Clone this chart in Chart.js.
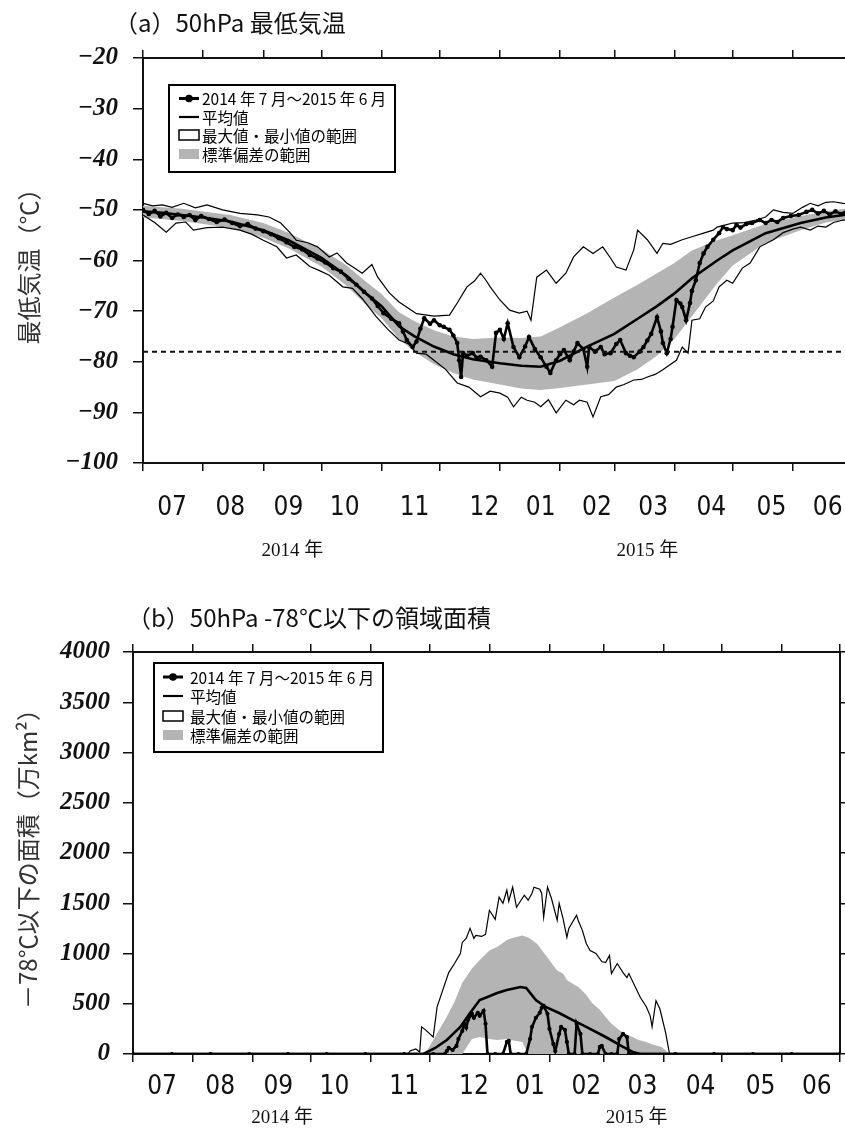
<!DOCTYPE html>
<html lang="ja">
<head>
<meta charset="utf-8">
<title>50hPa 最低気温 / -78℃以下の領域面積</title>
<script src="https://cdn.jsdelivr.net/npm/chart.js@4.4.1/dist/chart.umd.min.js"></script>
<style>
  html, body { margin: 0; padding: 0; background: #fff; }
  #page { position: relative; width: 845px; height: 1135px; overflow: hidden; }
  .ttl { position: absolute; font: 24px/24px "Noto Sans CJK JP", sans-serif; color: #111; white-space: pre; z-index: 2; }
  .box { position: absolute; left: 0; }
  canvas { display: block; }
</style>
</head>
<body>
<div id="page">
  <div class="box" style="top:0; width:860px; height:600px"><canvas id="chartTemp" width="860" height="600"></canvas></div>
  <div class="box" style="top:600px; width:845px; height:535px"><canvas id="chartArea" width="845" height="535"></canvas></div>
  <div class="ttl" style="left:114px; top:10px">（a）50hPa 最低気温</div>
  <div class="ttl" style="left:127px; top:605px">（b）50hPa -78℃以下の領域面積</div>
</div>
<script>
// x軸は 2014/7/1 からの経過日数
var monthStartDays = [0, 31, 62, 92, 123, 153, 184, 215, 243, 274, 304, 335, 365];
var monthLabels = ['07', '08', '09', '10', '11', '12', '01', '02', '03', '04', '05', '06'];
var monthLabelDays = [15, 45, 75, 104, 140, 176, 205, 234, 263, 293, 324, 353];
var yearLabels = ['2014 年', '2015 年'];
var yearLabelDays = [77, 260];
var legendLabels = ['2014 年 7 月～2015 年 6 月', '平均値', '最大値・最小値の範囲', '標準偏差の範囲'];

// (a) 50hPa 最低気温
var thresholdDays = [0, 365];
var tempThreshold = [-78, -78];
var smoothDays = [0, 10, 20, 31, 45, 62, 75, 92, 105, 115, 123, 132, 140, 150, 160, 170, 184, 195, 205, 215, 229, 243, 255, 265, 274, 283, 296, 304, 321, 339, 352, 365];
var tempMean = [-50.3, -50.6, -51.0, -51.5, -52.3, -54.0, -56.0, -59.5, -63.0, -66.5, -69.0, -73.0, -75.0, -77.0, -78.5, -79.5, -80.3, -80.8, -81.0, -79.8, -77.0, -74.5, -71.5, -69.0, -66.5, -63.5, -60.0, -58.0, -54.6, -52.6, -51.5, -50.8];
var tempSdHi = [-49.2, -49.5, -49.8, -50.3, -51.0, -52.6, -54.5, -57.8, -61.0, -64.2, -66.6, -70.2, -72.0, -73.8, -75.0, -75.5, -75.2, -75.3, -75.0, -73.2, -70.4, -67.3, -64.8, -62.5, -60.5, -58.0, -56.0, -55.0, -52.8, -51.2, -50.3, -49.6];
var tempSdLo = [-51.5, -51.8, -52.2, -52.8, -53.6, -55.5, -57.6, -61.2, -65.0, -68.8, -71.4, -75.5, -78.0, -80.5, -82.2, -83.5, -84.5, -85.3, -85.6, -85.2, -84.5, -83.8, -81.5, -78.8, -75.5, -71.0, -64.5, -61.0, -56.5, -54.0, -52.5, -51.8];
var tempMaxDays = [0, 5, 10, 15, 21, 27, 33, 41, 50, 59, 65, 71, 76, 79, 85, 90, 96, 100, 105, 109, 113, 118, 121, 127, 132, 137, 141, 150, 158, 162, 167, 171, 174, 177, 179, 184, 189, 194, 198, 200, 203, 208, 213, 218, 222, 227, 232, 237, 241, 244, 249, 253, 255, 260, 265, 268, 272, 278, 283, 289, 294, 296, 300, 304, 310, 316, 321, 325, 330, 335, 340, 344, 348, 352, 356, 361, 365];
var tempMax = [-48.7, -49.2, -49.0, -49.5, -48.7, -49.6, -49.0, -50.0, -50.7, -51.0, -51.4, -52.6, -54.6, -56.0, -56.5, -57.3, -59.3, -58.5, -60.5, -61.5, -62.5, -60.8, -63.3, -66.4, -68.2, -69.5, -70.5, -71.0, -70.8, -68.4, -65.2, -64.0, -62.5, -64.0, -65.2, -67.8, -69.8, -70.4, -70.0, -71.8, -63.3, -61.9, -64.5, -62.5, -59.3, -57.3, -58.6, -57.3, -59.5, -61.3, -61.9, -57.9, -54.0, -55.9, -58.6, -56.6, -56.8, -55.9, -55.3, -54.6, -54.0, -53.4, -53.0, -52.6, -52.5, -52.0, -51.4, -50.0, -50.5, -50.7, -49.5, -48.7, -49.2, -48.5, -48.4, -48.7, -48.8];
var tempMinDays = [0, 6, 12, 17, 22, 26, 33, 41, 50, 56, 62, 69, 74, 79, 86, 91, 96, 103, 108, 113, 120, 126, 132, 137, 141, 146, 150, 156, 162, 168, 174, 179, 184, 188, 191, 195, 198, 202, 205, 209, 213, 218, 222, 225, 229, 232, 236, 240, 244, 248, 253, 257, 260, 264, 268, 272, 275, 278, 281, 283, 287, 290, 294, 297, 301, 304, 309, 313, 318, 322, 325, 330, 335, 339, 344, 348, 352, 356, 361, 365];
var tempMin = [-51.0, -52.5, -54.4, -52.6, -52.4, -54.0, -53.5, -53.4, -54.0, -54.8, -56.0, -57.3, -59.5, -58.9, -61.2, -62.0, -62.9, -65.2, -65.5, -67.5, -71.0, -73.5, -75.7, -76.5, -78.3, -78.5, -79.7, -81.5, -84.2, -85.0, -86.9, -85.8, -86.2, -87.0, -88.9, -87.0, -87.6, -88.0, -88.9, -87.5, -90.1, -87.6, -88.5, -87.6, -88.0, -90.9, -86.9, -86.5, -85.0, -84.5, -83.6, -83.5, -83.0, -82.5, -81.6, -80.5, -79.7, -77.1, -78.3, -71.8, -71.5, -69.2, -68.0, -65.2, -63.9, -64.5, -61.5, -60.5, -57.3, -56.5, -55.9, -54.5, -53.8, -53.4, -54.0, -53.2, -53.4, -52.5, -52.0, -52.2];
var tempObsDays = [0, 3, 6, 9, 12, 15, 18, 21, 24, 27, 30, 34, 38, 42, 46, 50, 54, 58, 62, 66, 70, 74, 78, 82, 86, 90, 94, 98, 102, 106, 110, 114, 118, 121, 124, 128, 132, 134, 136, 139, 141, 143, 145, 148, 150, 153, 155, 158, 160, 162, 163, 164, 165, 167, 170, 172, 174, 177, 180, 182, 184, 186, 188, 191, 194, 197, 199, 202, 205, 208, 210, 213, 215, 217, 220, 222, 224, 227, 229, 230, 233, 236, 238, 241, 244, 246, 249, 251, 253, 256, 258, 260, 262, 265, 267, 268, 270, 272, 273, 275, 277, 278, 280, 282, 283, 285, 287, 289, 291, 294, 297, 299, 301, 304, 306, 308, 311, 314, 318, 321, 324, 327, 330, 334, 338, 342, 345, 348, 351, 354, 357, 360, 363, 365];
var tempObs = [-50.0, -50.8, -50.2, -51.3, -50.6, -51.6, -50.9, -51.4, -51.0, -52.0, -51.2, -51.8, -52.4, -51.9, -52.6, -53.2, -52.8, -53.7, -54.2, -54.8, -55.6, -56.4, -57.3, -57.8, -58.9, -59.6, -60.4, -61.5, -62.2, -63.6, -64.8, -66.2, -67.5, -69.0, -70.4, -71.5, -72.4, -74.0, -75.7, -77.1, -76.0, -73.5, -71.4, -72.5, -71.8, -72.8, -73.1, -73.7, -74.8, -76.3, -79.7, -83.0, -78.3, -78.8, -78.3, -79.2, -79.0, -79.7, -81.0, -74.3, -73.7, -75.5, -72.4, -77.1, -79.1, -77.0, -75.1, -77.5, -79.1, -81.0, -82.2, -79.7, -78.5, -77.7, -79.7, -78.0, -76.3, -77.5, -81.0, -77.1, -78.0, -77.1, -78.5, -78.3, -76.5, -75.7, -78.3, -78.8, -79.1, -78.0, -77.1, -75.8, -74.5, -71.2, -74.0, -76.3, -78.3, -75.5, -73.1, -67.8, -68.5, -69.2, -71.8, -68.4, -66.0, -63.9, -60.5, -58.6, -57.3, -55.9, -54.6, -53.4, -53.8, -54.0, -53.0, -53.5, -52.8, -52.6, -52.0, -52.6, -52.0, -52.4, -51.6, -51.2, -51.0, -50.4, -50.0, -50.7, -50.2, -50.9, -50.3, -50.8, -50.2, -50.5];

// (b) -78℃以下の領域面積（万km²）
var areaSdDays = [0, 149, 152, 155, 158, 162, 166, 170, 175, 179, 184, 188, 193, 195, 198, 201, 204, 206, 209, 211, 214, 217, 219, 222, 224, 227, 230, 234, 237, 241, 244, 247, 251, 255, 258, 261, 265, 269, 273, 277, 365];
var areaSdHi = [0, 0, 40, 140, 240, 370, 520, 710, 850, 935, 1030, 1065, 1134, 1150, 1164, 1180, 1160, 1134, 1090, 1035, 960, 880, 830, 800, 736, 700, 667, 590, 508, 440, 368, 300, 239, 190, 169, 140, 119, 90, 70, 0, 0];
var areaSdLo = [0, 0, 0, 0, 0, 0, 0, 0, 150, 170, 150, 140, 150, 140, 130, 120, 0, 0, 0, 0, 0, 0, 0, 0, 0, 0, 0, 0, 0, 0, 0, 0, 0, 0, 0, 0, 0, 0, 0, 0, 0];
var areaMeanDays = [0, 150, 156, 162, 169, 174, 179, 183, 188, 193, 200, 203, 208, 213, 220, 227, 234, 244, 253, 258, 262, 365];
var areaMean = [0, 0, 60, 139, 269, 408, 537, 567, 607, 637, 667, 657, 537, 468, 408, 338, 269, 169, 70, 20, 0, 0];
var areaMaxDays = [0, 142, 143, 146, 148, 149, 151, 155, 157, 160, 163, 166, 169, 170, 172, 174, 176, 177, 180, 182, 184, 187, 189, 191, 193, 194, 196, 198, 200, 202, 204, 206, 207, 210, 211, 212, 214, 216, 219, 220, 222, 224, 225, 229, 230, 232, 234, 236, 239, 242, 244, 246, 247, 250, 253, 255, 256, 260, 262, 265, 267, 268, 270, 272, 275, 277, 365];
var areaMax = [0, 0, 30, 50, 20, 270, 240, 170, 470, 640, 810, 900, 1000, 1110, 1150, 1250, 1150, 1180, 1170, 1190, 1430, 1340, 1560, 1500, 1630, 1520, 1660, 1460, 1520, 1580, 1530, 1600, 1660, 1640, 1600, 1360, 1660, 1550, 1330, 1500, 1350, 1160, 1250, 1380, 1320, 1230, 1100, 1030, 1000, 920, 910, 980, 800, 900, 810, 760, 800, 640, 560, 470, 380, 270, 530, 450, 210, 0, 0];
var areaObsDays = [0, 20, 40, 60, 80, 100, 120, 140, 155, 161, 162, 163, 165, 167, 168, 170, 171, 172, 173, 175, 176, 178, 179, 181, 182, 183, 187, 191, 193, 194, 195, 199, 203, 205, 206, 208, 210, 211, 212, 214, 215, 217, 218, 220, 221, 223, 224, 225, 228, 229, 231, 232, 236, 240, 241, 242, 244, 247, 250, 251, 253, 255, 256, 260, 280, 300, 320, 340, 365];
var areaObs = [0, 0, 0, 0, 0, 0, 0, 0, 0, 0, 30, 60, 40, 80, 150, 230, 300, 260, 340, 400, 360, 410, 380, 430, 300, 0, 0, 0, 120, 130, 0, 0, 0, 150, 270, 360, 410, 460, 480, 400, 250, 100, 30, 200, 270, 240, 120, 0, 0, 300, 200, 0, 0, 0, 70, 80, 0, 0, 0, 150, 200, 170, 0, 0, 0, 0, 0, 0, 0];

var ink = '#111';
var bandGray = '#b4b4b4';
var cjk = '"Noto Sans CJK JP", sans-serif';
var numFont = { family: '"Liberation Serif", "DejaVu Serif", serif', size: 25, style: 'italic', weight: 'bold' };
// 月ラベルは細身の書体（font-stretch: condensed）
var monthFont = { family: '"DejaVu Sans", sans-serif', size: 26, weight: 'condensed' };
var yearFont = { family: '"Liberation Serif", "Noto Sans CJK JP", serif', size: 19 };

function pts(days, vals) {
  return days.map(function (d, i) { return { x: d, y: vals[i] }; });
}

function fixedTicks(list) {
  return function (scale) {
    scale.ticks = list.map(function (v) { return { value: v }; });
  };
}

// 凡例は枠付きでプロット内左上に描く
var legendBoxPlugin = {
  id: 'legendBox',
  afterDraw: function (chart, args, o) {
    var ctx = chart.ctx, ca = chart.chartArea;
    var left = ca.left + o.dx, top = ca.top + o.dy;
    ctx.save();
    ctx.fillStyle = '#fff';
    ctx.fillRect(left, top, o.w, o.h);
    ctx.lineWidth = 2;
    ctx.strokeStyle = '#000';
    ctx.strokeRect(left, top, o.w, o.h);
    ctx.font = '15.5px ' + cjk;
    ctx.textBaseline = 'middle';
    legendLabels.forEach(function (txt, i) {
      var y = top + o.rows[i];
      var x0 = left + o.symX, x1 = x0 + 20;
      ctx.fillStyle = '#000';
      ctx.strokeStyle = '#000';
      if (i === 0) {
        ctx.lineWidth = 3;
        ctx.beginPath(); ctx.moveTo(x0, y); ctx.lineTo(x1, y); ctx.stroke();
        ctx.beginPath(); ctx.arc((x0 + x1) / 2, y, 3.8, 0, Math.PI * 2); ctx.fill();
      } else if (i === 1) {
        ctx.lineWidth = 2.2;
        ctx.beginPath(); ctx.moveTo(x0, y); ctx.lineTo(x1, y); ctx.stroke();
      } else if (i === 2) {
        ctx.lineWidth = 1.5;
        ctx.strokeRect(x0, y - 5, 20, 10);
      } else {
        ctx.fillStyle = bandGray;
        ctx.fillRect(x0, y - 5, 20, 10);
        ctx.fillStyle = '#000';
      }
      ctx.fillText(txt, left + o.textX, y + 1);
    });
    ctx.restore();
  }
};

function makeScales(o) {
  var tickGrid = { drawOnChartArea: false, color: ink, lineWidth: 1.5, tickLength: 8 };
  var edge = { display: true, color: ink, width: 2 };
  var s = {
    x: {
      type: 'linear', position: 'bottom', min: 0, max: 365, weight: 0,
      afterBuildTicks: fixedTicks(monthStartDays),
      ticks: { display: false },
      grid: tickGrid, border: edge,
      afterFit: function (sc) { sc.height = 10; }
    },
    xMonth: {
      type: 'linear', position: 'bottom', min: 0, max: 365, weight: 1,
      afterBuildTicks: fixedTicks(monthLabelDays),
      ticks: {
        autoSkip: false, maxRotation: 0, padding: o.monthPad, color: ink, font: monthFont,
        callback: function (v, i) { return monthLabels[i]; }
      },
      grid: { display: false }, border: { display: false },
      afterFit: function (sc) { sc.height = o.monthH; }
    },
    xYear: {
      type: 'linear', position: 'bottom', min: 0, max: 365, weight: 2,
      afterBuildTicks: fixedTicks(yearLabelDays),
      ticks: {
        autoSkip: false, maxRotation: 0, padding: o.yearPad, color: ink, font: yearFont,
        callback: function (v, i) { return yearLabels[i]; }
      },
      grid: { display: false }, border: { display: false },
      afterFit: function (sc) { sc.height = o.yearH; }
    },
    xTop: {
      type: 'linear', position: 'top', min: 0, max: 365,
      afterBuildTicks: fixedTicks(monthStartDays),
      ticks: { display: false },
      grid: tickGrid, border: edge,
      afterFit: function (sc) { sc.height = 10; }
    },
    y: {
      type: 'linear', position: 'left', min: o.yMin, max: o.yMax,
      ticks: { stepSize: o.yStep, padding: o.yPad, color: ink, font: numFont, callback: o.fmt },
      grid: { drawOnChartArea: false, color: ink, lineWidth: 1.5, tickLength: 10 },
      border: edge,
      title: { display: true, text: o.yTitle, color: '#333', font: { family: cjk, size: 24 }, padding: { top: o.titlePad, bottom: 0 } },
      afterFit: function (sc) { sc.width = o.yWidth; }
    }
  };
  if (o.rightAxis) {
    s.yRight = {
      type: 'linear', position: 'right', min: o.yMin, max: o.yMax,
      ticks: { display: false, stepSize: o.yStep },
      grid: { drawOnChartArea: false, color: ink, lineWidth: 1.5, tickLength: 6 },
      border: edge,
      afterFit: function (sc) { sc.width = 5; }
    };
  }
  return s;
}

function baseOptions(scales, padding, legendOpts) {
  return {
    responsive: false,
    animation: false,
    devicePixelRatio: 1,
    events: [],
    layout: { padding: padding, autoPadding: false },
    plugins: { legend: { display: false }, tooltip: { enabled: false }, legendBox: legendOpts },
    scales: scales
  };
}

var hidden = 'rgba(0,0,0,0)';

new Chart(document.getElementById('chartTemp').getContext('2d'), {
  type: 'line',
  data: {
    datasets: [
      { data: pts(thresholdDays, tempThreshold), borderColor: ink, borderWidth: 2, borderDash: [5, 4], pointRadius: 0, order: 0 },
      { data: pts(tempObsDays, tempObs), borderColor: '#000', backgroundColor: '#000', borderWidth: 2.6, pointRadius: 2.3, pointBorderWidth: 0, order: 1 },
      { data: pts(smoothDays, tempMean), borderColor: '#000', borderWidth: 2.6, pointRadius: 0, order: 2 },
      { data: pts(tempMaxDays, tempMax), borderColor: '#000', borderWidth: 1.2, pointRadius: 0, order: 3 },
      { data: pts(tempMinDays, tempMin), borderColor: '#000', borderWidth: 1.2, pointRadius: 0, order: 3 },
      { data: pts(smoothDays, tempSdHi), borderColor: hidden, borderWidth: 1, pointRadius: 0, fill: '+1', backgroundColor: bandGray, order: 4 },
      { data: pts(smoothDays, tempSdLo), borderColor: hidden, borderWidth: 1, pointRadius: 0, fill: false, order: 4 }
    ]
  },
  options: baseOptions(makeScales({
    yMin: -100, yMax: -20, yStep: 10, yPad: 15, yWidth: 143, titlePad: 14,
    yTitle: '最低気温（℃）',
    fmt: function (v) { return '\u2212' + Math.abs(v); },
    monthPad: 12, monthH: 50, yearPad: 9, yearH: 40, rightAxis: false
  }), { top: 48, left: 0, right: 9, bottom: 37 },
  { dx: 26, dy: 27, w: 226, h: 87, rows: [13.5, 32, 50, 69], symX: 10, textX: 33 }),
  plugins: [legendBoxPlugin]
});

new Chart(document.getElementById('chartArea').getContext('2d'), {
  type: 'line',
  data: {
    datasets: [
      { data: pts(areaObsDays, areaObs), borderColor: '#000', backgroundColor: '#000', borderWidth: 2.6, pointRadius: 2.1, pointBorderWidth: 0, order: 1 },
      { data: pts(areaMeanDays, areaMean), borderColor: '#000', borderWidth: 2.6, pointRadius: 0, order: 2 },
      { data: pts(areaMaxDays, areaMax), borderColor: '#000', borderWidth: 1.2, pointRadius: 0, order: 3 },
      { data: pts(areaSdDays, areaSdHi), borderColor: hidden, borderWidth: 1, pointRadius: 0, fill: '+1', backgroundColor: bandGray, order: 4 },
      { data: pts(areaSdDays, areaSdLo), borderColor: hidden, borderWidth: 1, pointRadius: 0, fill: false, order: 4 }
    ]
  },
  options: baseOptions(makeScales({
    yMin: 0, yMax: 4000, yStep: 500, yPad: 13, yWidth: 133, titlePad: 13,
    yTitle: '－78℃以下の面積（万km²）',
    fmt: function (v) { return String(v); },
    monthPad: 0, monthH: 32, yearPad: 3, yearH: 39, rightAxis: true
  }), { top: 42, left: 0, right: 0, bottom: 0 },
  { dx: 21, dy: 11, w: 229, h: 89, rows: [14, 33, 53, 72], symX: 9, textX: 36 }),
  plugins: [legendBoxPlugin]
});
</script>
</body>
</html>
